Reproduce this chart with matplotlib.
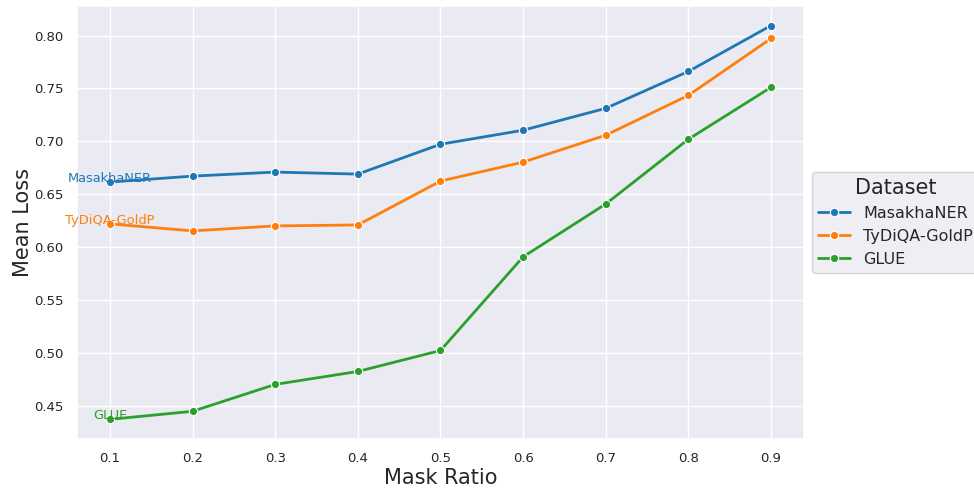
import matplotlib
matplotlib.use("Agg")
import matplotlib.pyplot as plt
import seaborn as sns

sns.set_theme(style="darkgrid")

mask_ratio = [0.1, 0.2, 0.3, 0.4, 0.5, 0.6, 0.7, 0.8, 0.9]
masakhaner = [0.6617, 0.6673, 0.6711, 0.6692, 0.6974, 0.7106, 0.7313, 0.7661, 0.8094]
tydiqa = [0.6222, 0.6156, 0.6203, 0.6212, 0.6626, 0.6805, 0.7059, 0.7435, 0.7972]
glue = [0.4377, 0.4453, 0.4707, 0.4829, 0.5027, 0.5911, 0.6410, 0.7021, 0.7511]

series_names = ["MasakhaNER", "TyDiQA-GoldP", "GLUE"]
series_values = [masakhaner, tydiqa, glue]
colors = ["#1f77b4", "#ff7f0e", "#2ca02c"]

fig = plt.figure(figsize=(9.74, 4.9), dpi=100)
ax = fig.add_axes([0.079, 0.104, 0.7465, 0.884])

for name, vals, c in zip(series_names, series_values, colors):
    ax.plot(mask_ratio, vals, marker="o", color=c, lw=2, markersize=6,
            markeredgecolor="white", markeredgewidth=0.8, label=name)
    ax.text(mask_ratio[0], vals[0], name, color=c, ha="center", va="baseline", fontsize=9.4)

ax.set_xticks(mask_ratio)
ax.set_xticklabels([f"{v:.1f}" for v in mask_ratio])
ax.tick_params(labelsize=9.5)
ax.set_xlabel("Mask Ratio", fontsize=15, labelpad=2)
ax.set_ylabel("Mean Loss", fontsize=15, labelpad=1)

leg = ax.legend(title="Dataset", loc="center left", bbox_to_anchor=(1, 0.5),
                fontsize=11.5, title_fontsize=15)

fig.savefig("out.png", dpi=100)
